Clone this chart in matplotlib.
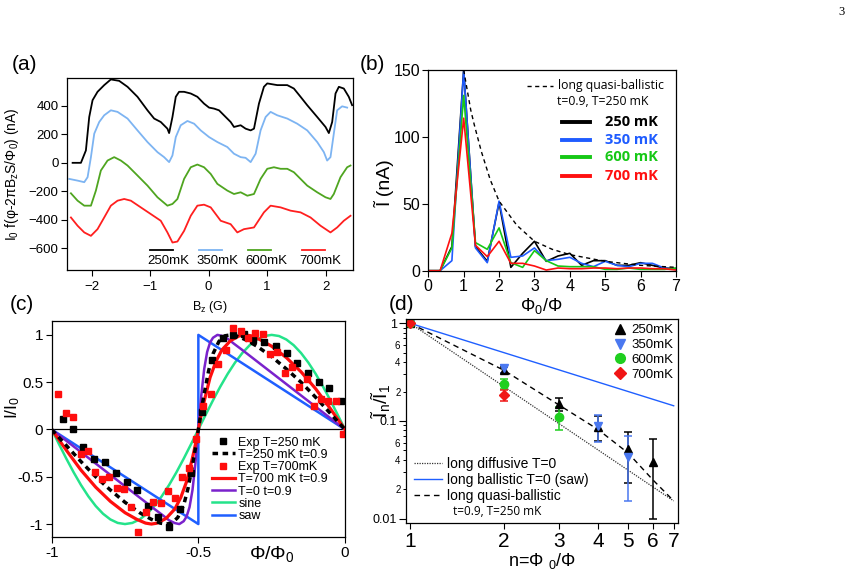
import numpy as np
import matplotlib.pyplot as plt
from matplotlib.lines import Line2D
from matplotlib.ticker import FixedLocator, NullLocator, FuncFormatter

plt.rcParams['font.family'] = ['Liberation Sans', 'DejaVu Sans']
plt.rcParams['mathtext.fontset'] = 'custom'
plt.rcParams['mathtext.rm'] = 'Liberation Sans'
plt.rcParams['mathtext.it'] = 'Liberation Sans:italic'
plt.rcParams['mathtext.default'] = 'regular'
plt.rcParams['axes.linewidth'] = 0.9

# ---------------- (a) oscillations vs field ----------------
a_x_250 = [-2.324, -2.182, -2.097, -2.040, -1.983, -1.898, -1.784, -1.670, -1.528, -1.385, -1.215, -1.044,
           -0.930, -0.817, -0.703, -0.674, -0.617, -0.560, -0.504, -0.418, -0.304, -0.191, -0.077, 0.009,
           0.094, 0.179, 0.293, 0.378, 0.435, 0.549, 0.634, 0.720, 0.777, 0.862, 0.947, 1.004, 1.175,
           1.346, 1.459, 1.573, 1.687, 1.858, 2.000, 2.057, 2.114, 2.171, 2.228, 2.313, 2.398, 2.455]
a_y_250 = [0, 0, 87, 322, 440, 499, 546, 586, 576, 534, 464, 369, 311, 287, 240, 209, 322, 464, 499, 499,
           487, 464, 416, 388, 381, 369, 322, 287, 252, 264, 240, 228, 240, 416, 534, 558, 546, 546, 522,
           464, 405, 322, 252, 209, 287, 487, 534, 522, 464, 405]
a_x_350 = [-2.381, -2.239, -2.125, -2.068, -2.011, -1.954, -1.869, -1.784, -1.670, -1.556, -1.385, -1.215,
           -1.044, -0.873, -0.760, -0.674, -0.617, -0.560, -0.475, -0.361, -0.247, -0.134, 0.009, 0.151,
           0.321, 0.435, 0.549, 0.634, 0.720, 0.805, 0.890, 0.976, 1.061, 1.175, 1.346, 1.516, 1.687,
           1.858, 1.972, 2.028, 2.085, 2.142, 2.199, 2.284, 2.370]
a_y_350 = [-113, -125, -136, -101, 40, 205, 287, 334, 369, 358, 311, 228, 146, 75, 40, 5, 52, 181, 264,
           294, 275, 228, 181, 146, 111, 64, 40, 35, 5, 64, 228, 322, 358, 334, 311, 275, 228, 146, 75,
           16, 40, 205, 369, 397, 388]
a_x_600 = [-2.353, -2.239, -2.125, -2.011, -1.926, -1.841, -1.727, -1.613, -1.499, -1.385, -1.215, -1.044,
           -0.873, -0.703, -0.617, -0.532, -0.418, -0.304, -0.191, -0.077, 0.037, 0.151, 0.321, 0.435,
           0.549, 0.663, 0.777, 0.890, 1.004, 1.118, 1.232, 1.346, 1.459, 1.573, 1.687, 1.858, 2.000,
           2.085, 2.142, 2.256, 2.370, 2.427]
a_y_600 = [-214, -266, -301, -301, -195, -54, 16, 40, 16, -19, -89, -160, -242, -301, -289, -254, -113,
           -31, -12, -31, -78, -148, -195, -219, -207, -231, -219, -113, -42, -31, -42, -42, -66, -113,
           -160, -207, -242, -254, -219, -101, -31, -19]
a_x_700 = [-2.353, -2.239, -2.125, -2.011, -1.898, -1.784, -1.670, -1.556, -1.442, -1.328, -1.158, -0.987,
           -0.817, -0.703, -0.617, -0.532, -0.418, -0.304, -0.191, -0.077, 0.037, 0.208, 0.378, 0.492,
           0.606, 0.777, 0.947, 1.061, 1.232, 1.402, 1.573, 1.744, 1.915, 2.085, 2.199, 2.313, 2.427]
a_y_700 = [-384, -442, -489, -513, -466, -384, -301, -266, -254, -266, -313, -360, -407, -489, -560, -553,
           -478, -372, -301, -294, -313, -407, -431, -489, -466, -454, -348, -301, -313, -336, -348, -384,
           -442, -489, -454, -407, -372]
a_labels = ['250mK', '350mK', '600mK', '700mK']
a_colors = ['black', '#7db4f2', '#4fa520', '#ff1f1f']

# ---------------- (b) harmonics ----------------
b_x = [n / 3 for n in range(22)]
b_250 = [0, 0, 18, 150, 18, 7, 51, 2.5, 13, 22, 7, 11, 13, 4, 7.5, 7.5, 4, 4, 6, 4, 2, 1.5]
b_350 = [0, 0, 7.5, 150, 17, 6, 52, 10, 11, 17, 7.5, 8.5, 10, 5.5, 3, 7, 4, 3, 5.5, 5.5, 2, 1]
b_600 = [0, 0, 17, 131, 21, 16, 32, 6, 2.5, 15, 7.5, 3.5, 3, 3, 3, 1, 1, 2, 1, 1, 1, 2]
b_700 = [0, 0, 28, 114, 19, 10.5, 22, 5.5, 5.5, 3.5, 0.5, 2, 1.5, 1.5, 2, 2, 1.5, 2, 2, 1.5, 1.5, 0.5]
b_qb_x = [1.0, 1.1, 1.2, 1.3, 1.5, 1.75, 2.0, 2.5, 3.0, 3.5, 4.0, 5.0, 6.0, 7.0]
b_qb_y = [150, 135, 120, 109, 89, 68, 52, 34, 22, 16, 12, 7, 4, 2.5]
b_labels = ['250 mK', '350 mK', '600 mK', '700 mK']
b_colors = ['black', '#1f5cff', '#16c816', '#ff1010']

# ---------------- (c) current-phase relation ----------------
c_exp250_x = [-0.963, -0.926, -0.892, -0.855, -0.818, -0.781, -0.744, -0.708, -0.673, -0.637, -0.600,
              -0.563, -0.526, -0.489, -0.455, -0.417, -0.381, -0.345, -0.313, -0.276, -0.235, -0.199,
              -0.163, -0.125, -0.088, -0.054, -0.015]
c_exp250_y = [0.116, 0.003, -0.183, -0.314, -0.349, -0.458, -0.553, -0.641, -0.810, -0.930, -1.035,
              -0.845, -0.458, 0.19, 0.735, 0.964, 0.999, 1.010, 0.946, 0.922, 0.887, 0.806, 0.700, 0.595,
              0.499, 0.436, 0.296]
c_exp700_x = [-0.977, -0.951, -0.926, -0.901, -0.877, -0.852, -0.827, -0.804, -0.778, -0.753, -0.730,
              -0.705, -0.680, -0.654, -0.628, -0.605, -0.580, -0.555, -0.531, -0.508, -0.485, -0.458,
              -0.432, -0.406, -0.381, -0.356, -0.330, -0.307, -0.281, -0.256, -0.231, -0.205, -0.182,
              -0.156, -0.131, -0.106, -0.083, -0.057, -0.031, -0.008]
c_exp700_y = [0.380, 0.169, 0.133, -0.261, -0.226, -0.448, -0.525, -0.500, -0.617, -0.630, -0.824,
              -1.088, -0.876, -0.764, -0.782, -0.652, -0.722, -0.500, -0.412, -0.106, 0.243, 0.373,
              0.690, 0.841, 1.070, 1.041, 0.964, 1.017, 1.006, 0.795, 0.823, 0.595, 0.665, 0.454, 0.534,
              0.253, 0.323, 0.302, 0.302, -0.05]
c_t250_x = [-1, -0.95, -0.9, -0.85, -0.8, -0.75, -0.7, -0.66, -0.63, -0.61, -0.59, -0.57, -0.55, -0.535,
            -0.52, -0.51, -0.5, -0.49, -0.48, -0.465, -0.45, -0.43, -0.41, -0.39, -0.37, -0.34, -0.3,
            -0.25, -0.2, -0.15, -0.1, -0.05, 0]
c_t250_y = [0, -0.17, -0.34, -0.50, -0.64, -0.77, -0.88, -0.95, -0.99, -1.0, -0.99, -0.93, -0.80, -0.62,
            -0.38, -0.2, 0, 0.2, 0.38, 0.62, 0.80, 0.93, 0.99, 1.0, 0.99, 0.95, 0.88, 0.77, 0.64, 0.50,
            0.34, 0.17, 0]
c_t700_x = [-1, -0.95, -0.9, -0.85, -0.8, -0.75, -0.71, -0.68, -0.66, -0.64, -0.61, -0.58, -0.56, -0.54,
            -0.52, -0.51, -0.5, -0.49, -0.48, -0.46, -0.44, -0.42, -0.39, -0.36, -0.34, -0.32, -0.29,
            -0.25, -0.2, -0.15, -0.1, -0.05, 0]
c_t700_y = [0, -0.22, -0.43, -0.61, -0.76, -0.88, -0.95, -0.99, -1.0, -0.99, -0.94, -0.84, -0.72, -0.55,
            -0.30, -0.16, 0, 0.16, 0.30, 0.55, 0.72, 0.84, 0.94, 0.99, 1.0, 0.99, 0.95, 0.88, 0.76, 0.61,
            0.43, 0.22, 0]
c_t0_x = [-1, -0.95, -0.9, -0.85, -0.8, -0.75, -0.7, -0.65, -0.62, -0.6, -0.58, -0.565, -0.55, -0.54,
          -0.53, -0.52, -0.51, -0.5, -0.49, -0.48, -0.47, -0.46, -0.45, -0.435, -0.42, -0.4, -0.38, -0.35,
          -0.3, -0.25, -0.2, -0.15, -0.1, -0.05, 0]
c_t0_y = [0, -0.12, -0.24, -0.36, -0.48, -0.60, -0.72, -0.84, -0.91, -0.96, -0.99, -1.0, -0.97, -0.92,
          -0.82, -0.64, -0.36, 0, 0.36, 0.64, 0.82, 0.92, 0.97, 1.0, 0.99, 0.96, 0.91, 0.84, 0.72, 0.60,
          0.48, 0.36, 0.24, 0.12, 0]
c_sine_x = [-1 + 0.025 * k for k in range(41)]
c_sine_y = [0, -0.156, -0.309, -0.454, -0.588, -0.707, -0.809, -0.891, -0.951, -0.988, -1, -0.988, -0.951,
            -0.891, -0.809, -0.707, -0.588, -0.454, -0.309, -0.156, 0, 0.156, 0.309, 0.454, 0.588, 0.707,
            0.809, 0.891, 0.951, 0.988, 1, 0.988, 0.951, 0.891, 0.809, 0.707, 0.588, 0.454, 0.309, 0.156, 0]
c_saw_x = [-1, -0.5, -0.5, 0]
c_saw_y = [0, -1, 1, 0]

# ---------------- (d) harmonic ratios ----------------
d_n250 = [1, 2, 3, 4, 5, 6]
d_r250 = [1.0, 0.333, 0.149, 0.0875, 0.0513, 0.0383]
d_lo250 = [1.0, 0.31, 0.127, 0.063, 0.0234, 0.010]
d_hi250 = [1.0, 0.355, 0.172, 0.113, 0.078, 0.065]
d_n350 = [1, 2, 4, 5]
d_r350 = [1.0, 0.35, 0.089, 0.043]
d_lo350 = [1.0, 0.31, 0.0613, 0.0152]
d_hi350 = [1.0, 0.37, 0.115, 0.0707]
d_n600 = [1, 2, 3]
d_r600 = [1.0, 0.237, 0.111]
d_lo600 = [1.0, 0.21, 0.081]
d_hi600 = [1.0, 0.27, 0.14]
d_n700 = [1, 2]
d_r700 = [1.0, 0.185]
d_lo700 = [1.0, 0.16]
d_hi700 = [1.0, 0.205]
d_diff_n, d_diff_r = [1, 7], [1.0, 0.0152]
d_saw_n, d_saw_r = [1, 7], [1.0, 0.143]
d_qb_n = [1, 2, 3, 4, 5, 6, 7]
d_qb_r = [1.0, 0.33, 0.146, 0.082, 0.047, 0.025, 0.0152]

W, H = 854, 575
fig = plt.figure(figsize=(W / 100, H / 100), dpi=100)


def box(l, t, r, b):
    return fig.add_axes([l / W, 1 - b / H, (r - l) / W, (b - t) / H])


def ticks(ax, size):
    ax.tick_params(direction='out', length=4, width=0.8, labelsize=size, pad=2)


# (a)
axA = box(67, 78, 353, 270)
for xs, ys, c in zip([a_x_250, a_x_350, a_x_600, a_x_700], [a_y_250, a_y_350, a_y_600, a_y_700], a_colors):
    axA.plot(xs, ys, color=c, lw=1.3)
axA.set_xlim(-2.42, 2.47)
axA.set_ylim(-753, 596)
axA.set_xticks([-2, -1, 0, 1, 2])
axA.set_yticks([-600, -400, -200, 0, 200, 400])
ticks(axA, 9.5)
axA.tick_params(axis='x', pad=4)
axA.set_ylabel('I$_0$ f(φ-2πB$_z$S/Φ$_0$) (nA)', fontsize=10)
axA.yaxis.set_label_coords(-0.16, 0.5)
axA.set_xlabel('B$_z$ (G)', fontsize=9)
axA.xaxis.set_label_coords(0.5, -0.15)
for i, (lab, c) in enumerate(zip(a_labels, a_colors)):
    x0 = [0.29, 0.462, 0.633, 0.822][i]
    axA.plot([x0, x0 + 0.08], [0.104, 0.104], color=c, lw=1.3, transform=axA.transAxes)
    axA.text(x0 - 0.008, 0.045, lab, fontsize=9.5, transform=axA.transAxes, va='center')

# (b)
axB = box(428.3, 70, 676, 270.7)
for ys, c in zip([b_250, b_350, b_600, b_700], b_colors):
    axB.plot(b_x, ys, color=c, lw=1.2)
axB.plot(b_qb_x, b_qb_y, color='black', lw=1.0, ls=(0, (3, 2.5)))
axB.set_xlim(0, 7)
axB.set_ylim(0, 150)
axB.set_xticks(range(8))
axB.set_yticks([0, 50, 100, 150])
ticks(axB, 11.5)
axB.set_ylabel('Ĩ (nA)', fontsize=14)
axB.yaxis.set_label_coords(-0.134, 0.437)
axB.set_xlabel('Φ$_0$/Φ', fontsize=13)
axB.xaxis.set_label_coords(0.455, -0.125)
axB.plot([0.397, 0.503], [0.922, 0.922], color='black', lw=1.0, ls=(0, (3, 2.5)), transform=axB.transAxes)
axB.text(0.524, 0.922, 'long quasi-ballistic', fontsize=8.8, family='Open Sans', va='center',
         transform=axB.transAxes)
axB.text(0.518, 0.842, 't=0.9, T=250 mK', fontsize=8.8, family='Open Sans', va='center',
         transform=axB.transAxes)
for y0, lab, c in zip([0.742, 0.653, 0.565, 0.472], b_labels, b_colors):
    axB.plot([0.539, 0.652], [y0, y0], color=c, lw=2.8, transform=axB.transAxes)
    axB.text(0.713, y0, lab, color=c, fontsize=10.5, fontweight='bold', family='Open Sans', va='center',
             transform=axB.transAxes)

# (c)
axC = box(51.7, 320.7, 345, 537.3)
axC.axhline(0, color='black', lw=0.9)
axC.plot(c_sine_x, c_sine_y, color='#24e38a', lw=1.8, label='sine')
axC.plot(c_saw_x, c_saw_y, color='#1f5fff', lw=1.8, label='saw')
axC.plot(c_t0_x, c_t0_y, color='#7a22cc', lw=1.8, label='T=0 t=0.9')
axC.plot(c_t700_x, c_t700_y, color='#ff0d0d', lw=2.3, label='T=700 mK t=0.9')
axC.plot(c_t250_x, c_t250_y, color='black', lw=2.5, ls=(0, (1.6, 1.3)), label='T=250 mK t=0.9')
axC.plot(c_exp250_x, c_exp250_y, 's', color='black', ms=4.5, label='Exp T=250 mK')
axC.plot(c_exp700_x, c_exp700_y, 's', color='#ff0d0d', ms=4.5, label='Exp T=700mK')
axC.set_xlim(-1, 0)
axC.set_ylim(-1.14, 1.15)
axC.set_xticks([-1, -0.5, 0])
axC.set_xticklabels(['-1', '-0.5', '0'])
axC.set_yticks([-1, -0.5, 0, 0.5, 1])
axC.set_yticklabels(['-1', '-0.5', '0', '0.5', '1'])
ticks(axC, 11)
axC.set_ylabel('I/I$_0$', fontsize=12.5)
axC.yaxis.set_label_coords(-0.1, 0.6)
axC.set_xlabel('Φ/Φ$_0$', fontsize=14)
axC.xaxis.set_label_coords(0.751, -0.03)
h, l = axC.get_legend_handles_labels()
order = ['Exp T=250 mK', 'T=250 mK t=0.9', 'Exp T=700mK', 'T=700 mK t=0.9', 'T=0 t=0.9', 'sine', 'saw']
hd = dict(zip(l, h))
axC.legend([hd[k] for k in order], order, loc='upper left', bbox_to_anchor=(0.545, 0.465), frameon=False,
           fontsize=9, handlelength=1.85, handletextpad=0.3, labelspacing=0.02, borderpad=0,
           borderaxespad=0)

# (d)
axD = box(406, 319, 677.7, 523.3)
axD.set_xscale('log')
axD.set_yscale('log')
axD.plot(d_diff_n, d_diff_r, color='#333333', lw=0.9, ls=(0, (1, 1)), label='long diffusive T=0')
axD.plot(d_saw_n, d_saw_r, color='#1f5fff', lw=1.0, label='long ballistic T=0 (saw)')
axD.plot(d_qb_n, d_qb_r, color='black', lw=1.0, ls=(0, (4, 3)), label='long quasi-ballistic')
pts = []
for n, r, lo, hi, m, c, lab in [(d_n250, d_r250, d_lo250, d_hi250, '^', 'black', '250mK'),
                                (d_n350, d_r350, d_lo350, d_hi350, 'v', '#4a78f0', '350mK'),
                                (d_n600, d_r600, d_lo600, d_hi600, 'o', '#1fcf1f', '600mK'),
                                (d_n700, d_r700, d_lo700, d_hi700, 'D', '#f01515', '700mK')]:
    r = np.array(r)
    err = [r - np.array(lo), np.array(hi) - r]
    axD.errorbar(n, r, yerr=err, fmt=m, color=c, ms=6 if m != 'D' else 5, capsize=3,
                 elinewidth=1.1, capthick=1.1)
    pts.append(Line2D([], [], marker=m, color=c, ls='none', ms=7 if m != 'D' else 6, label=lab))
axD.set_xlim(0.971, 7.21)
axD.set_ylim(0.00897, 1.105)
axD.xaxis.set_major_locator(FixedLocator([1, 2, 3, 4, 5, 6, 7]))
axD.xaxis.set_minor_locator(NullLocator())
axD.xaxis.set_major_formatter(FuncFormatter(lambda v, p: '%d' % round(v)))
axD.yaxis.set_major_locator(FixedLocator([0.01, 0.1, 1]))
axD.yaxis.set_major_formatter(FuncFormatter(lambda v, p: {0.01: '0.01', 0.1: '0.1', 1: '1'}.get(round(v, 3), '')))
minors = [k * 10.0 ** e for e in (-2, -1) for k in range(2, 10)]
axD.yaxis.set_minor_locator(FixedLocator(minors))


def minor_lab(v, p):
    k = int(round(v / 10 ** np.floor(np.log10(v) + 1e-9)))
    return str(k) if k in (2, 4, 6) else ''


axD.yaxis.set_minor_formatter(FuncFormatter(minor_lab))
axD.tick_params(axis='x', direction='out', length=4, width=0.8, labelsize=15, pad=2)
axD.tick_params(axis='y', which='major', direction='out', length=5, width=0.8, labelsize=9, pad=1.5)
axD.tick_params(axis='y', which='minor', direction='out', length=2.5, width=0.7, labelsize=7, pad=1.5)
axD.set_xlabel('n=Φ $_0$/Φ', fontsize=13, labelpad=0.5)
axD.set_ylabel('Ĩ$_n$/Ĩ$_1$', fontsize=14)
axD.yaxis.set_label_coords(-0.05, 0.6)
leg1 = axD.legend(handles=pts, loc='upper right', bbox_to_anchor=(0.985, 0.975), frameon=False, fontsize=9.5,
                  handlelength=1.0, handletextpad=0.35, labelspacing=0.2, borderpad=0, borderaxespad=0)
axD.add_artist(leg1)
h, l = axD.get_legend_handles_labels()
h = h[:3] + [Line2D([], [], color='none')]
l = l[:3] + ['  t=0.9, T=250 mK']
leg2 = axD.legend(h, l, loc='lower left', bbox_to_anchor=(0.03, 0.025), frameon=False, fontsize=10,
                  handlelength=2.0, handletextpad=0.4, labelspacing=0.15, borderpad=0, borderaxespad=0)
leg2.get_texts()[3].set_fontsize(8.5)
leg2.get_texts()[3].set_family('Open Sans')

fig.text(12 / W, 1 - 65 / H, '(a)', fontsize=15, va='center')
fig.text(360 / W, 1 - 65 / H, '(b)', fontsize=15, va='center')
fig.text(10 / W, 1 - 305 / H, '(c)', fontsize=15, va='center')
fig.text(389 / W, 1 - 305 / H, '(d)', fontsize=15, va='center')
fig.text(838 / W, 1 - 12 / H, '3', fontsize=9, family='Liberation Serif', va='center')

fig.savefig('out.png', dpi=100)
